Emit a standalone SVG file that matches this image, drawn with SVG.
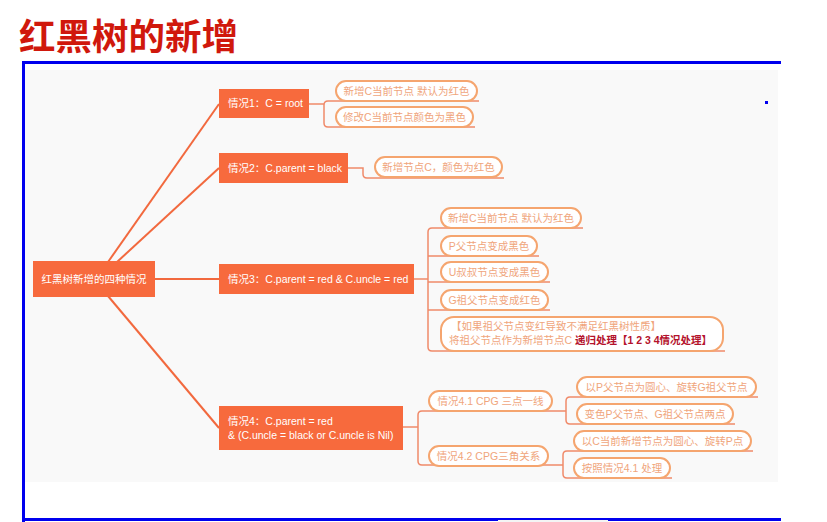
<svg xmlns="http://www.w3.org/2000/svg" width="827" height="522" viewBox="0 0 827 522">
<style>
.title{font-family:"Liberation Sans","Noto Sans CJK SC",sans-serif;font-size:36.5px;font-weight:bold;fill:#d0180c}
.node rect{fill:#f76a3d}
.node text{font-family:"Liberation Sans","Noto Sans CJK SC",sans-serif;font-size:10.5px;fill:#ffffff}
.pill rect{fill:#ffffff;stroke:#f5a56f;stroke-width:2}
.pill text{font-family:"Liberation Sans","Noto Sans CJK SC",sans-serif;font-size:10.5px;fill:#f0a57c}
.em{fill:#b4122c;font-weight:bold}
.main{fill:none;stroke:#f2693e;stroke-width:2}
.sub{fill:none;stroke:#f08a6a;stroke-width:1.5}
</style>
<rect x="0" y="0" width="827" height="522" fill="#ffffff"/>
<text class="title" x="19" y="50">红黑树的新增</text>
<rect x="25" y="70" width="753" height="412" fill="#f9f9f9"/>
<rect x="22" y="61" width="759" height="3" fill="#0000ee"/>
<rect x="22" y="61" width="3" height="461" fill="#0000ee"/>
<rect x="22" y="518" width="759" height="3" fill="#0000ee"/>
<rect x="498" y="520" width="110" height="2" fill="#f4f4f4"/>
<rect x="765" y="101" width="3" height="3" fill="#0000ee"/>

<g id="connectors">
<path class="main" d="M108 262 L219 104"/>
<path class="main" d="M117 262 L219 168"/>
<path class="main" d="M155 279 H219"/>
<path class="main" d="M108 296 L219 428"/>
<path class="sub" d="M309 104 H324 M479 101 H328 Q324 101 324 105 V123 Q324 127 328 127 H475"/>
<path class="sub" d="M348 168 H363 V174 Q363 178 367 178 H504"/>
<path class="sub" d="M414 279 H428 M583 228 H432 Q428 228 428 232 V347 Q428 351 432 351 H725 M428 256 H539 M428 282 H550 M428 310 H550"/>
<path class="sub" d="M403 427 H418 M566 411 H422 Q418 411 418 415 V461 Q418 465 422 465 H563"/>
<path class="sub" d="M758 397 H570 Q566 397 566 401 V420 Q566 424 570 424 H735"/>
<path class="sub" d="M753 451 H567 Q563 451 563 455 V474 Q563 478 567 478 H672"/>
</g>

<g id="root" class="node"><rect x="33" y="261" width="122" height="36"/><text x="94" y="283" text-anchor="middle">红黑树新增的四种情况</text></g>
<g id="case1" class="node"><rect x="219" y="89" width="90" height="29"/><text x="228" y="107">情况1：C = root</text></g>
<g id="case2" class="node"><rect x="219" y="153" width="129" height="30"/><text x="228" y="172">情况2：C.parent = black</text></g>
<g id="case3" class="node"><rect x="219" y="264" width="195" height="30"/><text x="228" y="283">情况3：C.parent = red &amp; C.uncle = red</text></g>
<g id="case4" class="node"><rect x="219" y="406" width="184" height="44"/><text x="228" y="425">情况4：C.parent = red</text><text x="228" y="439">&amp; (C.uncle = black or C.uncle is Nil)</text></g>

<g id="c1a" class="pill"><rect x="336" y="81" width="141" height="20" rx="10"/><text x="406.5" y="94.7" text-anchor="middle">新增C当前节点 默认为红色</text></g>
<g id="c1b" class="pill"><rect x="336" y="107" width="137" height="20" rx="10"/><text x="404.5" y="120.7" text-anchor="middle">修改C当前节点颜色为黑色</text></g>
<g id="c2a" class="pill"><rect x="375" y="157" width="127" height="20" rx="10"/><text x="438.5" y="170.7" text-anchor="middle">新增节点C，颜色为红色</text></g>
<g id="c3a" class="pill"><rect x="441" y="208" width="140" height="20" rx="10"/><text x="511" y="221.7" text-anchor="middle">新增C当前节点 默认为红色</text></g>
<g id="c3b" class="pill"><rect x="441" y="236" width="96" height="20" rx="10"/><text x="489" y="249.7" text-anchor="middle">P父节点变成黑色</text></g>
<g id="c3c" class="pill"><rect x="441" y="262" width="107" height="20" rx="10"/><text x="494.5" y="275.7" text-anchor="middle">U叔叔节点变成黑色</text></g>
<g id="c3d" class="pill"><rect x="441" y="290" width="107" height="20" rx="10"/><text x="494.5" y="303.7" text-anchor="middle">G祖父节点变成红色</text></g>
<g id="c3e" class="pill"><rect x="441" y="317" width="282" height="34" rx="13"/><text x="451" y="329.5">【如果祖父节点变红导致不满足红黑树性质】</text><text x="449" y="344">将祖父节点作为新增节点C <tspan class="em">递归处理【1 2 3 4情况处理】</tspan></text></g>
<g id="c41" class="pill"><rect x="429" y="391" width="123" height="20" rx="10"/><text x="490.5" y="404.7" text-anchor="middle">情况4.1 CPG 三点一线</text></g>
<g id="c42" class="pill"><rect x="429" y="446" width="119" height="20" rx="10"/><text x="488.5" y="459.7" text-anchor="middle">情况4.2 CPG三角关系</text></g>
<g id="c41a" class="pill"><rect x="577" y="377" width="179" height="20" rx="10"/><text x="666.5" y="390.7" text-anchor="middle">以P父节点为圆心、旋转G祖父节点</text></g>
<g id="c41b" class="pill"><rect x="577" y="404" width="156" height="20" rx="10"/><text x="655" y="417.7" text-anchor="middle">变色P父节点、G祖父节点两点</text></g>
<g id="c42a" class="pill"><rect x="574" y="431" width="177" height="20" rx="10"/><text x="662.5" y="444.7" text-anchor="middle">以C当前新增节点为圆心、旋转P点</text></g>
<g id="c42b" class="pill"><rect x="574" y="458" width="96" height="20" rx="10"/><text x="622" y="471.7" text-anchor="middle">按照情况4.1 处理</text></g>
</svg>
